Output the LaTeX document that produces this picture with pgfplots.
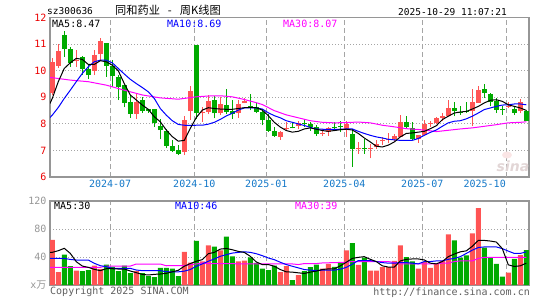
\documentclass[border=0pt]{standalone}
\usepackage{fontspec}
\setmainfont{DejaVu Sans}
\setmonofont{DejaVu Sans Mono}
\newfontfamily\cjk{Noto Sans CJK SC}
\usepackage{pgfplots}
\usepackage{pgfplotstable}
\pgfplotsset{compat=1.18}

\definecolor{cred}{RGB}{255,84,84}
\definecolor{cgreen}{RGB}{0,170,0}
\definecolor{mablue}{RGB}{0,0,255}
\definecolor{mamag}{RGB}{255,0,255}
\definecolor{tickred}{RGB}{235,0,0}
\definecolor{tickblue}{RGB}{20,120,200}
\definecolor{gridgrey}{RGB}{165,165,165}
\definecolor{framegrey}{RGB}{150,150,150}
\definecolor{volgrey}{RGB}{150,150,150}
\definecolor{footgrey}{RGB}{95,95,95}
\definecolor{wm}{RGB}{226,214,214}

\newcommand\tickfont{\fontsize{10}{10}\selectfont\ttfamily}
\newcommand\lbl{\fontsize{10}{10}\selectfont\ttfamily}

% i low high open close volume
\pgfplotstableread{
i l h o c v
0 9.09 10.47 9.15 10.32 64.5
1 10.10 11.00 10.19 10.74 18.4
4 10.15 10.80 10.38 10.42 20.7
7 9.84 10.80 10.00 10.59 27.8
8 10.40 11.24 10.62 11.12 23.0
14 8.19 9.12 8.39 8.82 19.8
22 6.82 8.31 6.95 8.14 47.5
23 8.14 9.43 8.48 9.25 32.0
25 8.08 8.65 8.40 8.46 33.9
26 8.37 9.09 8.46 8.86 56.5
28 8.33 9.00 8.40 8.75 49.4
31 8.24 8.90 8.40 8.75 33.9
32 8.77 8.96 8.80 8.86 34.8
38 7.41 7.75 7.50 7.69 18.4
39 7.75 8.06 7.79 7.83 26.8
41 7.79 8.10 7.91 8.04 14.1
45 7.56 7.81 7.63 7.67 23.5
46 7.56 7.88 7.69 7.85 30.1
49 7.50 8.12 7.81 7.98 49.4
51 6.88 7.32 7.05 7.09 28.8
53 6.70 7.26 7.05 7.09 20.5
54 7.07 7.38 7.13 7.23 20.5
55 7.20 7.51 7.35 7.39 25.6
56 7.28 7.66 7.39 7.43 25.6
57 7.36 7.61 7.45 7.54 34.4
58 7.51 8.33 7.51 8.08 56.7
61 7.29 7.57 7.45 7.57 23.3
62 7.57 8.14 7.57 7.99 33.0
63 7.89 8.11 8.00 8.04 24.6
64 7.98 8.26 8.02 8.24 29.8
65 8.10 8.41 8.22 8.31 34.4
66 8.28 8.91 8.31 8.60 72.5
70 7.91 9.31 8.47 8.81 73.9
71 8.79 9.41 8.79 9.28 110.0
76 8.60 8.81 8.62 8.68 17.7
78 8.41 8.93 8.47 8.81 42.8
}\redtab

\pgfplotstableread{
i l h o c v
2 10.53 11.50 11.35 10.82 43.3
3 10.15 10.91 10.82 10.28 26.8
5 9.84 10.55 10.52 10.08 19.8
6 9.71 10.20 10.05 9.84 21.2
9 9.78 11.04 11.04 10.19 29.2
10 9.40 10.40 10.19 9.80 25.9
11 8.90 9.84 9.76 9.40 19.8
12 8.62 9.46 9.46 8.80 27.8
13 8.22 9.09 8.82 8.38 16.9
15 8.42 9.00 8.90 8.50 16.9
16 8.42 8.58 8.58 8.50 12.7
17 7.90 8.58 8.55 8.02 11.3
18 7.42 8.18 7.93 7.77 24.5
19 7.08 7.79 7.73 7.18 24.5
20 6.95 7.39 7.16 6.99 23.3
21 6.82 7.20 7.02 6.88 12.7
24 8.18 10.97 10.97 8.40 63.0
27 8.21 9.05 8.90 8.40 55.0
29 8.37 9.30 8.71 8.46 69.0
30 8.20 8.90 8.50 8.37 41.0
33 8.52 9.12 8.68 8.64 39.5
34 8.40 8.78 8.65 8.46 31.5
35 7.94 8.56 8.45 8.13 23.5
36 7.69 8.37 8.15 7.75 21.2
37 7.52 7.88 7.75 7.56 27.8
40 7.83 8.06 7.87 7.83 7.1
42 7.87 8.15 8.04 8.00 19.8
43 7.75 8.06 8.00 7.87 25.4
44 7.54 7.94 7.90 7.62 29.2
47 7.81 8.06 7.88 7.84 25.9
48 7.69 8.10 7.91 7.87 31.5
50 6.38 7.82 7.61 7.05 60.0
52 6.88 7.45 7.09 7.05 39.0
59 7.82 8.29 8.08 7.89 40.0
60 7.39 8.08 7.86 7.45 33.9
67 8.28 8.82 8.60 8.47 63.7
68 8.35 8.66 8.45 8.41 39.0
69 8.41 8.82 8.49 8.45 42.3
72 8.97 9.51 9.32 9.16 53.5
73 8.66 9.16 9.13 8.81 39.5
74 8.41 8.97 8.88 8.53 30.2
75 8.35 8.66 8.58 8.54 12.1
77 8.35 8.66 8.56 8.41 37.2
79 8.10 8.53 8.47 8.12 49.8
}\greentab

\pgfplotsset{
  kframe/.style={
    scale only axis, anchor=south west, width=479pt,
    xmin=-0.38, xmax=79.45,
    axis line style={draw=framegrey, line width=1.3pt},
    major tick length=0pt,
    xtick={9.65,23.67,35.67,48.67,61.67},
    xmajorgrids, ymajorgrids,
    x grid style={gridgrey, line width=0.9pt, dash pattern=on 5pt off 3pt},
    y grid style={gridgrey, line width=0.9pt, dash pattern=on 1pt off 2pt},
    ticklabel style={font=\tickfont},
    /pgf/number format/assume math mode=true,
  },
  ebar/.style n args={2}{draw=none, mark=none, forget plot,
    error bars/.cd, y dir=plus, y explicit, error mark=none,
    error bar style={draw=#1, line width=#2, line cap=butt, solid}},
}

\begin{document}
\begin{tikzpicture}
\path[use as bounding box] (0pt,0pt) rectangle (545pt,300pt);

% ---------------- price panel ----------------
\begin{axis}[kframe, at={(50pt,123pt)}, height=159.3pt,
  ymin=6, ymax=12, ytick={6,7,...,12},
  yticklabel style={text=tickred},
  xticklabels={2024-07,2024-10,2025-01,2025-04,2025-07},
  xticklabel style={text=tickblue},
  extra x ticks={75.67}, extra x tick labels={2025-10},
  extra x tick style={grid=major, xticklabel style={anchor=north east, xshift=3pt, text=tickblue}},
]
% wicks
\addplot[ebar={cred}{1pt}]
  table[x=i, y=l, y error plus expr=\thisrow{h}-\thisrow{l}] {\redtab};
\addplot[ebar={cgreen}{1pt}]
  table[x=i, y=l, y error plus expr=\thisrow{h}-\thisrow{l}] {\greentab};
% bodies
\addplot[ebar={cred}{5pt}]
  table[x=i, y=o, y error plus expr=\thisrow{c}-\thisrow{o}] {\redtab};
\addplot[ebar={cgreen}{5pt}]
  table[x=i, y=c, y error plus expr=\thisrow{o}-\thisrow{c}] {\greentab};
% MA30
\addplot[mamag, line width=1pt, mark=none] coordinates {
(-0.38,9.75)(0,9.74)(3,9.65)(6,9.59)(9,9.46)(12,9.27)(15,9.09)(18,8.98)(21,8.93)(22,8.96)(24,9.02)(26,9.05)(28,9.06)(30,9.02)(32,8.92)(34,8.80)(35,8.73)(37,8.50)(39,8.34)(41,8.23)(43,8.12)(45,8.06)(47,8.04)(49,8.05)(51,8.07)(53,8.04)(55,7.95)(57,7.89)(59,7.82)(61,7.79)(63,7.74)(64,7.71)(66,7.76)(68,7.81)(70,7.85)(72,7.91)(74,7.97)(76,8.04)(78,8.06)(79,8.08)};
% MA10
\addplot[mablue, line width=1pt, mark=none] coordinates {
(-0.38,8.24)(0,8.33)(1,8.62)(2,8.96)(3,9.27)(4,9.59)(5,9.90)(6,10.15)(7,10.34)(8,10.40)(9,10.40)(10,10.30)(11,10.09)(12,9.88)(13,9.68)(14,9.52)(15,9.37)(16,9.21)(17,8.96)(18,8.58)(19,8.33)(20,8.12)(21,7.98)(22,7.95)(23,7.94)(24,7.95)(25,7.95)(26,7.99)(27,8.06)(28,8.17)(29,8.30)(30,8.40)(31,8.52)(32,8.60)(33,8.60)(34,8.60)(35,8.56)(36,8.42)(37,8.31)(38,8.23)(39,8.12)(40,8.06)(41,8.00)(42,7.94)(43,7.87)(44,7.81)(45,7.80)(46,7.79)(47,7.79)(48,7.80)(49,7.81)(50,7.81)(51,7.72)(52,7.64)(53,7.57)(54,7.51)(55,7.47)(56,7.42)(57,7.40)(58,7.38)(59,7.38)(60,7.38)(61,7.45)(62,7.57)(63,7.68)(64,7.77)(65,7.91)(66,8.04)(67,8.10)(68,8.12)(69,8.19)(70,8.29)(71,8.41)(72,8.54)(73,8.60)(74,8.66)(75,8.71)(76,8.72)(77,8.75)(78,8.75)(79,8.72)};
% MA5
\addplot[black, line width=1pt, mark=none] coordinates {
(-0.38,8.77)(0,8.96)(1,9.59)(2,10.09)(3,10.30)(4,10.47)(5,10.43)(6,10.24)(7,10.24)(8,10.38)(9,10.34)(10,10.21)(11,10.00)(12,9.52)(13,9.09)(14,8.90)(15,8.71)(16,8.55)(17,8.27)(18,8.08)(19,7.77)(20,7.52)(21,7.35)(22,7.38)(23,7.83)(24,8.24)(25,8.52)(26,8.61)(27,8.58)(28,8.56)(29,8.55)(30,8.55)(31,8.58)(32,8.61)(33,8.62)(34,8.61)(35,8.52)(36,8.31)(37,8.06)(38,7.88)(39,7.75)(40,7.69)(41,7.72)(42,7.81)(43,7.85)(44,7.80)(45,7.75)(46,7.72)(47,7.75)(48,7.78)(49,7.80)(50,7.77)(51,7.64)(52,7.47)(53,7.32)(54,7.16)(55,7.13)(56,7.20)(57,7.32)(58,7.51)(59,7.64)(60,7.66)(61,7.69)(62,7.72)(63,7.82)(64,7.93)(65,8.16)(66,8.29)(67,8.41)(68,8.45)(69,8.47)(70,8.56)(71,8.66)(72,8.79)(73,8.89)(74,8.91)(75,8.85)(76,8.72)(77,8.66)(78,8.60)(79,8.51)};
\end{axis}

% ---------------- volume panel ----------------
\begin{axis}[kframe, at={(50pt,15pt)}, height=84pt,
  ymin=0, ymax=120, ytick={0,40,80,120},
  yticklabels={{x{\cjk 万}},40,80,120},
  yticklabel style={text=volgrey},
  xticklabels={},
  extra x ticks={75.67}, extra x tick labels={},
  extra x tick style={grid=major},
]
\addplot[ybar, bar width=5pt, bar shift=0pt, fill=cred, draw=none, forget plot]
  table[x=i, y=v] {\redtab};
\addplot[ybar, bar width=5pt, bar shift=0pt, fill=cgreen, draw=none, forget plot]
  table[x=i, y=v] {\greentab};
% vol MA30
\addplot[mamag, line width=1pt, mark=none] coordinates {
(-0.38,25.2)(8,25.2)(9,27.0)(13,27.0)(14,30.0)(18,30.0)(19,27.5)(22,27.8)(24,30.1)(25,31.5)(26,30.6)(30,30.6)(31,30.1)(40,30.1)(41,29.2)(42,30.6)(44,30.6)(45,31.5)(49,32.5)(50,33.5)(56,33.5)(57,32.0)(58,30.2)(64,30.2)(65,31.2)(66,31.2)(67,33.5)(68,34.4)(70,34.4)(71,38.0)(72,39.5)(79,39.5)};
% vol MA10
\addplot[mablue, line width=1pt, mark=none] coordinates {
(-0.38,38)(0,38)(1,38)(2,38)(3,36.5)(4,35.7)(5,35.7)(6,35.7)(7,31)(8,27.6)(9,26.2)(10,23.8)(11,23.8)(12,23.8)(13,23.8)(14,21.4)(15,20.5)(16,20.5)(17,20.5)(18,20.5)(19,19)(20,18.8)(21,18.8)(22,19.8)(23,22.1)(24,26.8)(25,30.1)(26,33.9)(27,37.2)(28,41)(29,43.3)(30,45.6)(31,46.6)(32,47.5)(33,46.6)(34,44.7)(35,41.9)(36,38.6)(37,36.2)(38,32.5)(39,29.2)(40,26.8)(41,24.5)(42,22.1)(43,21.2)(44,20.7)(45,21.2)(46,21.2)(47,21.2)(48,22.6)(49,25.2)(50,29.8)(51,34.9)(52,34.9)(53,34.9)(54,33.5)(55,32)(56,31.2)(57,31.2)(58,32)(59,32)(60,31.2)(61,30.2)(62,33.5)(63,33.5)(64,34.4)(65,34.4)(66,36.7)(67,38)(68,40.5)(69,45.1)(70,49.8)(71,53.5)(72,54.4)(73,54.4)(74,54.4)(75,52)(76,48.4)(77,45.1)(78,45.1)(79,47.4)};
% vol MA5
\addplot[black, line width=1pt, mark=none] coordinates {
(-0.38,46.7)(0,46.7)(1,49)(2,52.4)(3,45.2)(4,33.3)(5,27.1)(6,25.2)(7,22.4)(8,20.5)(9,23.3)(10,23.3)(11,22.8)(12,22.8)(13,20)(14,17.6)(15,15.2)(16,14.3)(17,15.2)(18,15.7)(19,16.7)(20,18.8)(21,21)(22,26.8)(23,30.6)(24,33.9)(25,36.2)(26,44.7)(27,46.6)(28,51.3)(29,52.2)(30,50.4)(31,48)(32,46.6)(33,41)(34,32.9)(35,29.2)(36,29.2)(37,26.8)(38,22.1)(39,18.8)(40,18.4)(41,17.4)(42,16.5)(43,18.4)(44,19.8)(45,22.1)(46,23)(47,23)(48,27.4)(49,32.5)(50,38)(51,39.5)(52,40.5)(53,36.7)(54,33.5)(55,27.4)(56,25.6)(57,25.6)(58,34.4)(59,36.7)(60,37.2)(61,37.2)(62,35.8)(63,31.2)(64,30.2)(65,33.5)(66,40.5)(67,44.2)(68,47.4)(69,48.8)(70,55.3)(71,63.7)(72,63.7)(73,62.8)(74,61.4)(75,52)(76,28.8)(77,26.5)(78,27.4)(79,31.2)};
\end{axis}

% ---------------- texts ----------------
\node[anchor=west, inner sep=0pt, font=\fontsize{9.5}{10}\selectfont\ttfamily] at (47pt,289pt) {sz300636};
\node[anchor=west, inner sep=0pt, font=\fontsize{11.2}{12}\selectfont\cjk] at (115pt,290pt) {同和药业\hspace{8pt}-\hspace{8pt}周K线图};
\node[anchor=east, inner sep=0pt, font=\fontsize{9.5}{10}\selectfont\ttfamily] at (507pt,288pt) {2025-10-29 11:07:21};

\node[anchor=west, inner sep=0pt, font=\lbl] at (52pt,276pt) {MA5:8.47};
\node[anchor=west, inner sep=0pt, font=\lbl, text=mablue] at (167pt,276pt) {MA10:8.69};
\node[anchor=west, inner sep=0pt, font=\lbl, text=mamag] at (283pt,276pt) {MA30:8.07};

\node[anchor=west, inner sep=0pt, font=\lbl] at (54pt,94pt) {MA5:30};
\node[anchor=west, inner sep=0pt, font=\lbl, text=mablue] at (175pt,94pt) {MA10:46};
\node[anchor=west, inner sep=0pt, font=\lbl, text=mamag] at (295pt,94pt) {MA30:39};

\node[anchor=west, inner sep=0pt, font=\lbl, text=footgrey] at (50pt,8pt) {Copyright 2025 SINA.COM};
\node[anchor=east, inner sep=0pt, font=\lbl, text=footgrey] at (530pt,7pt) {http://finance.sina.com.cn};

% watermark
\fill[wm!70!red!25] (507pt,145pt) ellipse (5pt and 3.5pt);
\node[inner sep=0pt, font=\fontsize{14}{14}\selectfont\bfseries\itshape, text=wm] at (513pt,134pt) {sina};
\end{tikzpicture}
\end{document}
